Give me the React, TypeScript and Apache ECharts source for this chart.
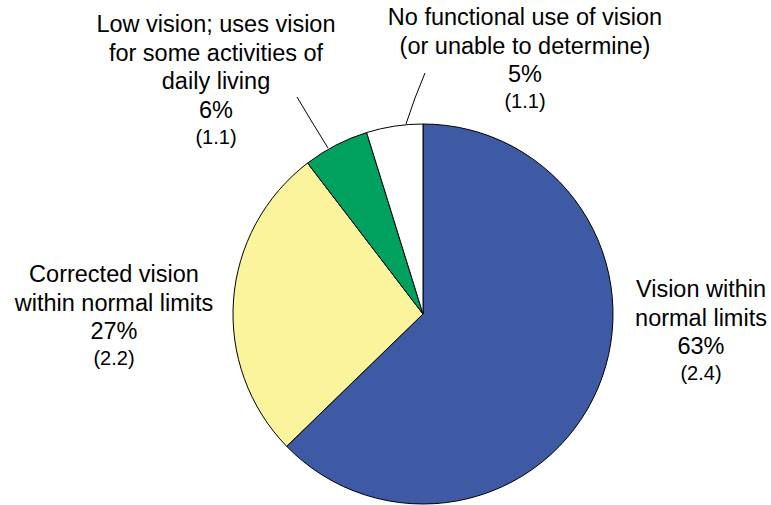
import React, { useEffect, useRef } from "react";
import * as echarts from "echarts";

const categories = [
  "Vision within\nnormal limits",
  "Corrected vision\nwithin normal limits",
  "Low vision; uses vision\nfor some activities of\ndaily living",
  "No functional use of vision\n(or unable to determine)",
];
const values = [62.8, 26.9, 5.6, 4.8];
const percentLabels = ["63", "27", "6", "5"];
const standardErrors = ["2.4", "2.2", "1.1", "1.1"];
const colors = ["#3E5AA4", "#FBF49C", "#00A05E", "#FFFFFF"];

// label anchor positions (center x, top y) and leader lines
const labelPos = [
  { x: 701, y: 275, line: null as number[][] | null },
  { x: 114, y: 260, line: null as number[][] | null },
  { x: 216, y: 10, line: [[328, 148], [312, 122], [297, 97]] },
  { x: 525, y: 3, line: [[406, 124], [415, 98], [425, 73]] },
];

const FONT = "'Liberation Sans', Arial, Helvetica, sans-serif";

export default function App() {
  const ref = useRef<HTMLDivElement>(null);
  useEffect(() => {
    if (!ref.current) return;
    const chart = echarts.init(ref.current, undefined, { renderer: "svg" });
    chart.setOption({
      animation: false,
      backgroundColor: "#ffffff",
      series: [
        {
          type: "pie",
          center: [423, 314],
          radius: 190,
          startAngle: 90,
          clockwise: true,
          avoidLabelOverlap: false,
          silent: true,
          itemStyle: { borderColor: "#000000", borderWidth: 1 },
          label: {
            show: true,
            position: "outside",
            color: "#000000",
            fontFamily: FONT,
            align: "center",
            formatter: (p: any) => {
              const i = p.dataIndex;
              const lines = categories[i].split("\n").map((l) => `{n|${l}}`);
              return [...lines, `{n|${percentLabels[i]}%}`, `{s|(${standardErrors[i]})}`].join("\n");
            },
            rich: {
              n: { fontSize: 23.5, lineHeight: 28.5, fontFamily: FONT, color: "#000", align: "center" },
              s: { fontSize: 20, lineHeight: 25, fontFamily: FONT, color: "#000", align: "center" },
            },
          },
          labelLine: {
            show: true,
            lineStyle: { color: "#000000", width: 1 },
          },
          labelLayout: (params: any) => {
            const lp = labelPos[params.dataIndex];
            const res: any = {
              x: lp.x,
              y: lp.y,
              align: "center",
              verticalAlign: "top",
            };
            if (lp.line) res.labelLinePoints = lp.line;
            return res;
          },
          data: values.map((v, i) => ({
            value: v,
            name: categories[i],
            itemStyle: { color: colors[i] },
            labelLine: { show: labelPos[i].line !== null },
          })),
        },
      ],
    });
    return () => chart.dispose();
  }, []);
  return (
    <div
      ref={ref}
      style={{ position: "absolute", left: 0, top: 0, width: 771, height: 505 }}
    />
  );
}
